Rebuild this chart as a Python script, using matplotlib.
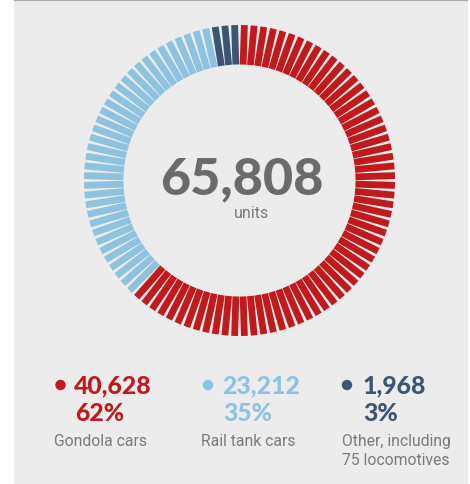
import matplotlib
matplotlib.use("Agg")
import matplotlib.pyplot as plt
import numpy as np
from matplotlib.patches import Rectangle, Circle

# ---- data ----
categories = ["Gondola cars", "Rail tank cars", "Other, including\n75 locomotives"]
units = [40628, 23212, 1968]
percents = [62, 35, 3]
value_labels = ["40,628", "23,212", "1,968"]
pct_labels = ["62%", "35%", "3%"]
total_label = "65,808"
total_unit = "units"
colors = ["#c01a1d", "#8dc3df", "#3b5674"]

W, H = 470, 485
fig = plt.figure(figsize=(W / 100, H / 100), dpi=100, facecolor="white")
ax = fig.add_axes([0, 0, 1, 1])
ax.set_xlim(0, W)
ax.set_ylim(H, 0)
ax.axis("off")

# background panel and top rule
ax.add_patch(Rectangle((14, 1), 454, H, facecolor="#ececec", edgecolor="none", zorder=0))
ax.plot([14, 468], [0.8, 0.8], color="#a9a9a9", lw=1.5, solid_capstyle="butt", zorder=1)

# radial tick ring: one tick per percent, clockwise from top
cx, cy = 239.5, 181.5
r_in, r_out = 116, 155.5
tick_colors = []
for p, c in zip(percents, colors):
    tick_colors += [c] * p
n = len(tick_colors)
for i, c in enumerate(tick_colors):
    th = np.deg2rad((i + 0.5) * 360.0 / n)
    s, co = np.sin(th), np.cos(th)
    ax.plot([cx + r_in * s, cx + r_out * s], [cy - r_in * co, cy - r_out * co],
            color=c, lw=4.9, solid_capstyle="butt", zorder=2)

bold_font = ["Lato", "DejaVu Sans"]
narrow_font = ["Liberation Sans Narrow", "Roboto", "DejaVu Sans"]

ax.text(cx + 2, 180, total_label, ha="center", va="center", fontsize=37.5,
        fontweight="black", color="#6b6b6b", family=bold_font)
ax.text(cx + 12, 214, total_unit, ha="center", va="center", fontsize=11.5,
        color="#7a7a7a", family=narrow_font)

# legend blocks
dot_x = [60.5, 208, 347]
txt_x = [74, 222, 362]
lab_x = [54, 201, 342]
for i in range(3):
    ax.add_patch(Circle((dot_x[i], 386), 5.2, facecolor=colors[i], edgecolor="none"))
    ax.text(txt_x[i], 385.5, value_labels[i], ha="left", va="center", fontsize=17.8,
            fontweight="black", color=colors[i], family=bold_font)
    ax.text(txt_x[i] + 1, 413.5, pct_labels[i], ha="left", va="center", fontsize=17.8,
            fontweight="black", color=colors[i], family=bold_font)
    ax.text(lab_x[i], 434, categories[i], ha="left", va="top", fontsize=11.3,
            color="#7a7a7a", family=narrow_font, linespacing=1.3)

fig.savefig("out.png", dpi=100, facecolor="white")
